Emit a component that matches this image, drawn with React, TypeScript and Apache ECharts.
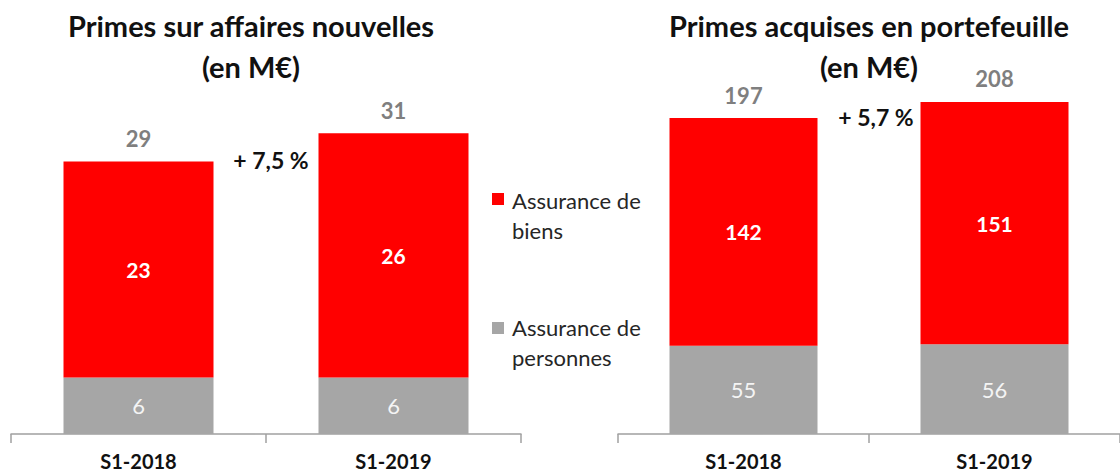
import React, { useEffect, useRef } from "react";
import * as echarts from "echarts";

const categories = ["S1-2018", "S1-2019"];
const personnesNew = [6, 6];
const biensNew = [23, 26];
const totalNew = [29, 31];
const personnesPort = [55, 56];
const biensPort = [142, 151];
const totalPort = [197, 208];
const growthLabels = ["+ 7,5 %", "+ 5,7 %"];
const chartTitles = ["Primes sur affaires nouvelles\n(en M€)", "Primes acquises en portefeuille\n(en M€)"];
const legendNames = ["Assurance de\nbiens", "Assurance de\npersonnes"];

const RED = "#ff0000";
const GREY = "#a6a6a6";
const FONT = "Lato, 'Open Sans', sans-serif";

export default function App() {
  const ref = useRef<HTMLDivElement>(null);
  useEffect(() => {
    if (!ref.current) return;
    const chart = echarts.init(ref.current, null, { renderer: "svg" });
    const catAxis = (gi: number) => ({
      type: "category",
      gridIndex: gi,
      data: categories,
      axisLine: { lineStyle: { color: "#a0a0a0", width: 1.5 } },
      axisTick: { show: true, length: 9, lineStyle: { color: "#a0a0a0", width: 1.5 } },
      axisLabel: { margin: 17, fontSize: 20, lineHeight: 20, fontWeight: "bold", color: "#111", fontFamily: FONT },
    });
    const valAxis = (gi: number, max: number) => ({
      type: "value",
      gridIndex: gi,
      min: 0,
      max,
      show: false,
      splitLine: { show: false },
    });
    const barSeries = (gi: number, personnes: number[], biens: number[], totals: number[], w: number) => [
      {
        type: "bar",
        name: "Assurance de personnes",
        xAxisIndex: gi,
        yAxisIndex: gi,
        stack: "s" + gi,
        barWidth: w,
        data: personnes,
        itemStyle: { color: GREY },
        label: { show: true, position: "inside", color: "#f4f4f4", fontSize: 22, fontFamily: FONT },
      },
      {
        type: "bar",
        name: "Assurance de biens",
        xAxisIndex: gi,
        yAxisIndex: gi,
        stack: "s" + gi,
        barWidth: w,
        data: biens,
        itemStyle: { color: RED },
        label: { show: true, position: "inside", color: "#ffffff", fontWeight: "bold", fontSize: 21, fontFamily: FONT },
      },
      {
        type: "bar",
        name: "Total",
        xAxisIndex: gi,
        yAxisIndex: gi,
        stack: "s" + gi,
        barWidth: w,
        data: totals.map(() => 0),
        itemStyle: { color: "transparent" },
        label: {
          show: true,
          position: "top",
          distance: 12,
          color: "#7f7f7f",
          fontWeight: "bold",
          fontSize: 22,
          fontFamily: FONT,
          formatter: (p: any) => String(totals[p.dataIndex]),
        },
      },
    ];
    const titleStyle = { fontSize: 29, fontWeight: "bold", color: "#111", lineHeight: 41, fontFamily: FONT };
    chart.setOption({
      animation: false,
      title: [
        { text: chartTitles[0], left: 251, top: 5, padding: 0, textAlign: "center", textStyle: titleStyle },
        { text: chartTitles[1], left: 869, top: 5, padding: 0, textAlign: "center", textStyle: titleStyle },
      ],
      grid: [
        { left: 11, width: 510, top: 58, bottom: 41 },
        { left: 618, width: 504, top: 33, bottom: 41 },
      ],
      xAxis: [catAxis(0), catAxis(1)],
      yAxis: [valAxis(0, 40), valAxis(1, 250)],
      series: [
        ...barSeries(0, personnesNew, biensNew, totalNew, 150),
        ...barSeries(1, personnesPort, biensPort, totalPort, 148),
      ],
      graphic: [
        {
          type: "text",
          x: 271,
          y: 160,
          style: { text: growthLabels[0], textAlign: "center", textVerticalAlign: "middle", fontSize: 23, fontWeight: "bold", fill: "#111", fontFamily: FONT },
        },
        {
          type: "text",
          x: 876,
          y: 117,
          style: { text: growthLabels[1], textAlign: "center", textVerticalAlign: "middle", fontSize: 23, fontWeight: "bold", fill: "#111", fontFamily: FONT },
        },
        { type: "rect", shape: { x: 492, y: 193, width: 12, height: 12 }, style: { fill: RED } },
        {
          type: "text",
          x: 512,
          y: 185,
          style: { text: legendNames[0], fontSize: 22, lineHeight: 30, fill: "#262626", fontFamily: FONT },
        },
        { type: "rect", shape: { x: 492, y: 322, width: 12, height: 12 }, style: { fill: GREY } },
        {
          type: "text",
          x: 512,
          y: 312,
          style: { text: legendNames[1], fontSize: 22, lineHeight: 30, fill: "#262626", fontFamily: FONT },
        },
      ],
    });
    return () => chart.dispose();
  }, []);
  return <div ref={ref} style={{ position: "absolute", left: 0, top: 0, width: 1120, height: 475 }} />;
}
